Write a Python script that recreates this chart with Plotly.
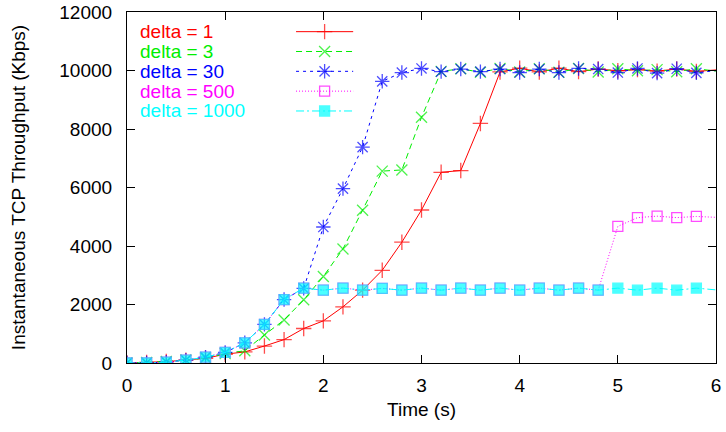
import plotly.graph_objects as go

# Sample times (s)
time_s = [0.0, 0.2, 0.4, 0.6, 0.8, 1.0, 1.2, 1.4, 1.6, 1.8, 2.0, 2.2, 2.4, 2.6, 2.8,
          3.0, 3.2, 3.4, 3.6, 3.8, 4.0, 4.2, 4.4, 4.6, 4.8, 5.0, 5.2, 5.4, 5.6, 5.8, 6.0]

# Instantaneous TCP throughput (Kbps) per delta setting
delta_1 = [0, 20, 50, 100, 160, 300, 380, 580, 800, 1180, 1440, 1920, 2490, 3170, 4130,
           5230, 6520, 6580, 8190, 9950, 10080, 9950, 10080, 9960, 10050, 9990, 10030, 9980,
           10050, 9970, 10020]
delta_3 = [0, 20, 50, 100, 170, 320, 420, 960, 1470, 2160, 2960, 3900, 5220, 6560, 6600,
           8400, 9970, 10060, 9940, 10070, 9950, 10060, 9940, 10070, 9950, 10060, 9990,
           10030, 9960, 10060, 9980]
delta_30 = [0, 0, 30, 100, 200, 360, 690, 1320, 2170, 2550, 4650, 5960, 7380, 9630, 9930,
            10070, 9960, 10050, 9960, 10050, 9930, 10050, 9930, 10070, 10050, 9930, 10070,
            9910, 10060, 9920, 10000]
delta_500 = [0, 0, 30, 100, 200, 360, 690, 1320, 2170, 2560, 2490, 2560, 2490, 2550, 2490,
             2560, 2490, 2560, 2490, 2560, 2490, 2560, 2490, 2560, 2490, 4670, 4970, 5020,
             4970, 5010, 4980]
delta_1000 = [0, 0, 30, 100, 200, 360, 690, 1320, 2170, 2560, 2490, 2560, 2490, 2550, 2490,
              2560, 2490, 2560, 2490, 2560, 2490, 2560, 2490, 2560, 2490, 2560, 2490, 2560,
              2490, 2560, 2500]

series_names = ["delta = 1", "delta = 3", "delta = 30", "delta = 500", "delta = 1000"]
x_ticks = [0, 1, 2, 3, 4, 5, 6]
y_ticks = [0, 2000, 4000, 6000, 8000, 10000, 12000]
y_tick_labels = ["0", "2000", "4000", "6000", "8000", "10000", "12000"]

FONT = "Liberation Sans, Arial, Helvetica, sans-serif"
FS = 19

styles = [
    dict(color="#ff0000", dash="solid", symbol="cross-thin-open", size=11, lw=1),
    dict(color="#00ee00", dash="6px,4px", symbol="x-thin-open", size=11, lw=1),
    dict(color="#0000ff", dash="3px,4px", symbol="asterisk-open", size=12, lw=1),
    dict(color="#ff00ff", dash="1px,2px", symbol="square-open", size=10, lw=1),
    dict(color="#00ffff", dash="8px,3px,2px,3px", symbol="square", size=10, lw=1),
]

all_series = [delta_1, delta_3, delta_30, delta_500, delta_1000]

fig = go.Figure()

n = len(time_s)
for name, ys, st in zip(series_names, all_series, styles):
    # no symbol drawn on the final sample at the right border
    sizes = [st["size"]] * (n - 1) + [0]
    fig.add_trace(go.Scatter(
        x=time_s, y=ys, mode="lines+markers", name=name, showlegend=False,
        line=dict(color=st["color"], width=st["lw"], dash=st["dash"]),
        marker=dict(symbol=st["symbol"], size=sizes, color=st["color"],
                    line=dict(color=st["color"], width=1.3)),
        cliponaxis=True,
        xaxis="x", yaxis="y",
    ))

# Key: coloured labels on the left, line samples on the right
key_top = 0.944
key_step = 0.0565
key_x0, key_x1 = 0.287, 0.384
for i, (name, st) in enumerate(zip(series_names, styles)):
    ky = key_top - i * key_step
    fig.add_annotation(x=0.018, y=ky, xref="paper", yref="paper", text=name,
                       showarrow=False, xanchor="left", yanchor="middle",
                       font=dict(family=FONT, size=FS, color=st["color"]))
    kx = [key_x0, (key_x0 + key_x1) / 2, key_x1]
    fig.add_trace(go.Scatter(
        x=kx, y=[ky] * 3, mode="lines+markers", showlegend=False,
        line=dict(color=st["color"], width=st["lw"], dash=st["dash"]),
        marker=dict(symbol=st["symbol"], size=[0, st["size"], 0], color=st["color"],
                    line=dict(color=st["color"], width=1.3)),
        xaxis="x2", yaxis="y2", hoverinfo="skip",
    ))

axis_common = dict(
    showline=True, linecolor="black", linewidth=1.2, mirror="allticks",
    ticks="inside", ticklen=8, tickwidth=1.2, tickcolor="black",
    showgrid=False, zeroline=False, automargin=False,
    tickfont=dict(family=FONT, size=FS, color="black"),
)

fig.update_layout(
    width=726, height=432,
    margin=dict(l=127, r=10, t=12, b=69),
    paper_bgcolor="white", plot_bgcolor="white",
    font=dict(family=FONT, size=FS, color="black"),
    xaxis=dict(range=[0, 6], tickvals=x_ticks, ticklabelstandoff=5,
               title=dict(text="Time (s)", font=dict(family=FONT, size=FS), standoff=7),
               **axis_common),
    yaxis=dict(range=[0, 12000], tickvals=y_ticks, ticktext=y_tick_labels,
               ticklabelstandoff=10,
               title=dict(text="Instantaneous TCP Throughput (Kbps)",
                          font=dict(family=FONT, size=FS), standoff=28),
               **axis_common),
    xaxis2=dict(range=[0, 1], overlaying="x", visible=False, anchor="y2"),
    yaxis2=dict(range=[0, 1], overlaying="y", visible=False, anchor="x2"),
)

fig.write_html("out.html")
